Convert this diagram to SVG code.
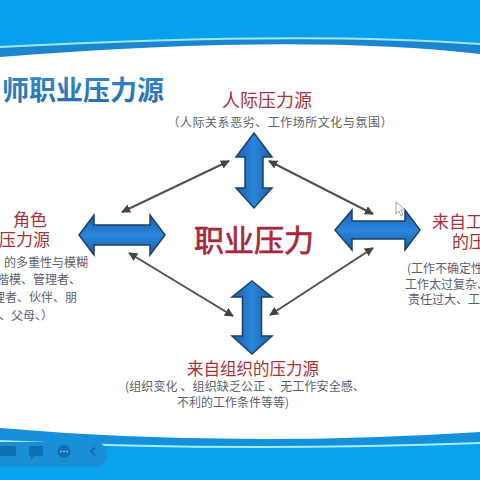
<svg xmlns="http://www.w3.org/2000/svg" width="480" height="480" viewBox="0 0 480 480">
<style>
.cjk{font-family:"Noto Sans CJK SC","Noto Sans",sans-serif;}
.head{fill:#a8323a;}
.desc{fill:#5a5f6a;font-size:12px;}
.thin{stroke:#505050;stroke-width:2;fill:none;marker-start:url(#ah);marker-end:url(#ah);}
.block{stroke:#1f3f6a;stroke-width:1.5;}
</style>
<defs>
<marker id="ah" viewBox="0 0 10 10" refX="9" refY="5" markerWidth="4.5" markerHeight="4.5" orient="auto-start-reverse" markerUnits="strokeWidth">
<path d="M0,0 L10,5 L0,10 Z" fill="#444"/>
</marker>
<linearGradient id="gv" x1="0" y1="0" x2="1" y2="0">
<stop offset="0" stop-color="#1a5fa8"/><stop offset="0.5" stop-color="#2a86dc"/><stop offset="1" stop-color="#1a5fa8"/>
</linearGradient>
<linearGradient id="gh" x1="0" y1="0" x2="0" y2="1">
<stop offset="0" stop-color="#1a5fa8"/><stop offset="0.5" stop-color="#2a86dc"/><stop offset="1" stop-color="#1a5fa8"/>
</linearGradient>
<linearGradient id="gt" x1="0" y1="0" x2="0" y2="1">
<stop offset="0" stop-color="#3a8ccc"/><stop offset="1" stop-color="#226cb0"/>
</linearGradient>
</defs>
<rect width="480" height="480" fill="#ffffff"/>
<!-- top band -->
<path d="M0,0 H480 V54 Q300,33 0,57 Z" fill="#1a86cf"/>
<path d="M0,0 H480 V44 Q300,31 0,47 Z" fill="#06a0ec"/>
<path d="M0,47 Q300,31 480,44" stroke="#9fe6f7" stroke-width="2" fill="none"/>
<!-- bottom band -->
<path d="M0,428 Q230,448 480,432 V480 H0 Z" fill="#1590da"/>
<path d="M0,441 Q230,452 480,443 V480 H0 Z" fill="#0aa2ec"/>
<path d="M0,441 Q230,452 480,443" stroke="#a6ecfa" stroke-width="2" fill="none"/>
<!-- toolbar -->
<g id="toolbar">
<rect x="-12" y="442" width="119" height="25" rx="12" fill="#1a8fd6"/>
<rect x="-2" y="446" width="18" height="10" rx="2" fill="#0e6fb2"/>
<path d="M29,446 H43 V456 H34 L31,459 V456 H29 Z" fill="#0e6fb2"/>
<circle cx="64" cy="451.5" r="6.5" fill="#0e6fb2"/>
<circle cx="61" cy="451.5" r="1" fill="#7cc4ee"/><circle cx="64" cy="451.5" r="1" fill="#7cc4ee"/><circle cx="67" cy="451.5" r="1" fill="#7cc4ee"/>
<path d="M95,447.5 L91,451.5 L95,455.5" stroke="#0e6fb2" stroke-width="2" fill="none"/>
</g>
<!-- title -->
<g id="title">
<text x="2" y="100" class="cjk" font-size="27" font-weight="bold" fill="url(#gt)">师职业压力源</text>
</g>
<!-- connectors -->
<g id="connectors">
<path class="block" fill="url(#gv)" d="M254,133 L272,157 L263,157 L263,188 L272,188 L254,208 L236,188 L245,188 L245,157 L236,157 Z"/>
<path class="block" fill="url(#gv)" d="M252,281 L272,297 L261.5,297 L261.5,336 L272,336 L252,354 L232,336 L242.5,336 L242.5,297 L232,297 Z"/>
<path class="block" fill="url(#gh)" d="M79,235 L94,215 L94,225 L150,225 L150,215 L165,235 L150,255 L150,245 L94,245 L94,255 Z"/>
<path class="block" fill="url(#gh)" d="M335,230 L352,210 L352,221 L405,221 L405,210 L420,230 L405,250 L405,239 L352,239 L352,250 Z"/>
<line class="thin" x1="122" y1="212" x2="229" y2="161"/>
<line class="thin" x1="269" y1="161" x2="373" y2="214"/>
<line class="thin" x1="129" y1="253" x2="233" y2="316"/>
<line class="thin" x1="270" y1="315" x2="373" y2="248"/>
</g>
<!-- nodes -->
<g id="node-center">
<text x="254" y="251" class="cjk" font-size="30" text-anchor="middle" fill="#a8283a" stroke="#a8283a" stroke-width="0.7">职业压力</text>
</g>
<g id="node-top">
<text x="267" y="107" class="cjk head" font-size="18" text-anchor="middle">人际压力源</text>
<text x="280" y="127" class="cjk desc" font-size="12.5" text-anchor="middle" textLength="225">（人际关系恶劣、工作场所文化与氛围）</text>
</g>
<g id="node-left">
<text x="13" y="226" class="cjk head" font-size="17">角色</text>
<text x="-1" y="246" class="cjk head" font-size="17">压力源</text>
<text x="88" y="267" class="cjk desc" font-size="12.5" text-anchor="end">的多重性与模糊</text>
<text x="81" y="284" class="cjk desc" font-size="12.5" text-anchor="end">楷模、管理者、</text>
<text x="77" y="302" class="cjk desc" font-size="12.5" text-anchor="end">理者、伙伴、朋</text>
<text x="53" y="320" class="cjk desc" font-size="12.5" text-anchor="end">、父母、）</text>
</g>
<g id="node-right">
<text x="432" y="228" class="cjk head" font-size="17">来自工</text>
<text x="452" y="248" class="cjk head" font-size="17">的压</text>
<text x="407" y="273" class="cjk desc">(工作不确定性</text>
<text x="405" y="288.5" class="cjk desc">工作太过复杂、</text>
<text x="408" y="304" class="cjk desc">责任过大、工</text>
<path d="M396,202 L396,214 L399,211 L401,216 L403,215 L401,210 L405,210 Z" fill="#fff" stroke="#888" stroke-width="0.8"/>
</g>
<g id="node-bottom">
<text x="253" y="375" class="cjk head" font-size="16.5" text-anchor="middle">来自组织的压力源</text>
<text x="125" y="391" class="cjk desc" textLength="240">(组织变化 、组织缺乏公正 、无工作安全感、</text>
<text x="177" y="407" class="cjk desc">不利的工作条件等等)</text>
</g>
</svg>
